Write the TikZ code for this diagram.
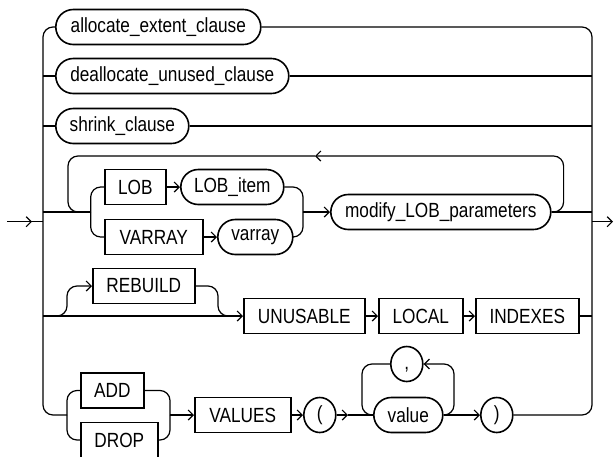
\documentclass[tikz,border=0pt]{standalone}
\usepackage{fontspec}
\setmainfont{Liberation Sans}[FakeStretch=0.84]
\usepackage{tikz}
\usetikzlibrary{arrows.meta, shapes.geometric}
\tikzset{
  %% ── Boxes ────────────────────────────────────────────────────────────
  %% A square box is a keyword, a rounded box is a clause, a round one a
  %% single sign.
  bloc/.style     = {draw, line width=1.6pt, minimum height=35pt, inner sep=0pt,
                     anchor=west, font=\fontsize{20.5}{24}\selectfont},
  blocRond/.style = {bloc, rounded corners=17.5pt},
  rond/.style     = {bloc, ellipse, minimum width=32pt, minimum height=35pt,
                     execute at begin node=\vphantom{()}},
  %%
  %% ── Lines ────────────────────────────────────────────────────────────
  ligne/.style    = {line width=1.2pt, rounded corners=10pt},
  fleche/.style   = {ligne, -{Straight Barb[length=5pt, width=10pt]}},
}

\begin{document}
\begin{tikzpicture}[x=1pt, y=-1pt]
\useasboundingbox (0,0) rectangle (614,456);

\coordinate (barreG) at (43,0);
\coordinate (barreD) at (592,0);
\coordinate (entree) at (7,221.7);
\coordinate (sortie) at (613,221.7);

\node[blocRond, minimum width=205pt] (alloc)   at (55,27)  {allocate\_extent\_clause};
\node[blocRond, minimum width=233pt] (dealloc) at (55,76)  {deallocate\_unused\_clause};
\node[blocRond, minimum width=133pt] (shrink)  at (55,126) {shrink\_clause};

\node[bloc, minimum width=61pt]      (lob)       at (104,187) {LOB};
\node[blocRond, minimum width=103pt] (lobItem)   at (180,187) {LOB\_item};
\node[bloc, minimum width=98pt]      (varray)    at (104,237) {VARRAY};
\node[blocRond, minimum width=75pt]  (varrayNom) at (217,237) {varray};
\node[blocRond, minimum width=220pt] (modif)     at (330,212) {modify\_LOB\_parameters};

\node[bloc, minimum width=102pt] (rebuild)  at (92,286)  {REBUILD};
\node[bloc, minimum width=121pt] (unusable) at (243,316) {UNUSABLE};
\node[bloc, minimum width=84pt]  (local)    at (378,316) {LOCAL};
\node[bloc, minimum width=103pt] (indexes)  at (475,316) {INDEXES};

\node[bloc, minimum width=63pt]     (add)     at (80,390.5) {ADD};
\node[bloc, minimum width=77pt]     (drop)    at (80,440)   {DROP};
\node[bloc, minimum width=96pt]     (values)  at (194,415)  {VALUES};
\node[rond]                         (parG)    at (303,415)  {(};
\node[blocRond, minimum width=69pt] (valeur)  at (373,415)  {value};
\node[rond]                         (virgule) at (390,364)  {,};
\node[rond]                         (parD)    at (480,415)  {)};

\coordinate (jLobG) at (90.7,212);
\coordinate (jLobD) at (303,212);
\coordinate (boucle) at (315,156);
\coordinate (jRebG) at (67,316);
\coordinate (jRebD) at (218,316);
\coordinate (jAdG) at (67,415);
\coordinate (jAdD) at (170,415);
\coordinate (pointe) at (348,415);

\draw[ligne] (alloc.west) -- (barreG |- alloc.west) -- (barreG |- jAdG) -- (jAdG);
\draw[ligne] (alloc.east) -- (barreD |- alloc.east) -- (barreD |- parD.east) -- (parD.east);
\foreach \n in {dealloc, shrink} {
  \draw[ligne] (barreG |- \n.west) -- (\n.west);
  \draw[ligne] (\n.east) -- (barreD |- \n.east);
}
\draw[ligne] (entree) -- (barreG |- entree);
\draw[fleche] (entree) -- ++(25,0);
\draw[fleche] (barreD |- sortie) -- (sortie);

\draw[ligne] (barreG |- jLobG) -- (jLobG);
\draw[ligne] (jLobG) |- (lob.west);
\draw[ligne] (jLobG) |- (varray.west);
\draw[fleche] (lob) -- (lobItem);
\draw[fleche] (varray) -- (varrayNom);
\draw[ligne] (lobItem.east) -| (jLobD);
\draw[ligne] (varrayNom.east) -| (jLobD);
\draw[fleche] (jLobD) -- (modif);
\draw[ligne] (modif.east) -- (barreD |- modif.east);
\draw[fleche] (modif.east) -- ++(12,0) -- ++(0,-56) -- (boucle);
\draw[ligne] (boucle) -- (68,156) -- (68,212) -- (jLobG);

\draw[fleche] (barreG |- unusable.west) -- (unusable.west);
\draw[fleche] (55,316) -- (jRebG) |- (rebuild.west);
\draw[ligne] (rebuild.east) -| (jRebD) -- ++(12,0);
\draw[fleche] (unusable) -- (local);
\draw[fleche] (local) -- (indexes);
\draw[ligne] (indexes.east) -- (barreD |- indexes.east);

\draw[ligne] (jAdG) |- (add.west);
\draw[ligne] (jAdG) |- (drop.west);
\draw[ligne] (add.east) -| (jAdD);
\draw[ligne] (drop.east) -| (jAdD);
\draw[fleche] (jAdD) -- (values);
\draw[fleche] (values) -- (parG);
\draw[fleche] (parG) -- (pointe);
\draw[ligne] (pointe) -- (valeur);
\draw[fleche] (valeur) -- (parD);
\draw[fleche] (valeur.east) -- (454,415) -- (454,364) -- (virgule);
\draw[ligne] (virgule) -- (362,364) -- (362,415) -- (valeur.west);

\end{tikzpicture}
\end{document}
